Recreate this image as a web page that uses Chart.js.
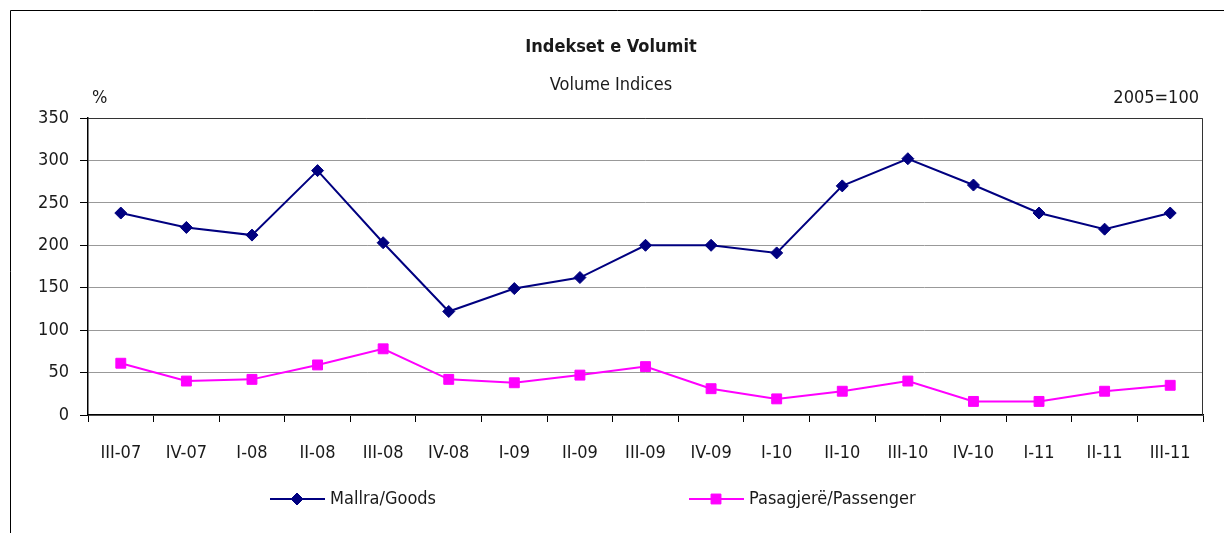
<!DOCTYPE html>
<html>
<head>
<meta charset="utf-8">
<script src="https://cdn.jsdelivr.net/npm/chart.js@4/dist/chart.umd.min.js"></script>
<style>
  html, body { margin: 0; padding: 0; background: #fff; }
  #wrap { width: 1224px; height: 533px; position: relative; }
</style>
</head>
<body>
<div id="wrap"><canvas id="chart" width="1224" height="533"></canvas></div>
<script>
// tremujoret
const quarters = ["III-07", "IV-07", "I-08", "II-08", "III-08", "IV-08", "I-09", "II-09", "III-09",
    "IV-09", "I-10", "II-10", "III-10", "IV-10", "I-11", "II-11", "III-11"];
// Mallra/Goods
const goodsValues = [238, 221, 212, 288, 203, 122, 149, 162, 200, 200, 191, 270, 302, 271, 238, 219, 238];
// Pasagjerë/Passenger
const passengerValues = [61, 40, 42, 59, 78, 42, 38, 47, 57, 31, 19, 28, 40, 16, 16, 28, 35];
const yTicks = [0, 50, 100, 150, 200, 250, 300, 350];

const fontName = "'Liberation Sans Narrow', 'DejaVu Sans Condensed', 'Liberation Sans', sans-serif";
const textColor = "#1a1a1a";

// tekstet, korniza dhe legjenda
const decorPlugin = {
    id: "decor",
    beforeDraw(chart) {
        const ctx = chart.ctx;
        ctx.save();
        ctx.fillStyle = "#fff";
        ctx.fillRect(0, 0, chart.width, chart.height);
        ctx.strokeStyle = "#000";
        ctx.lineWidth = 1;
        ctx.beginPath();
        ctx.moveTo(10.5, 533);
        ctx.lineTo(10.5, 10.5);
        ctx.lineTo(1224, 10.5);
        ctx.stroke();
        ctx.restore();
    },
    afterDraw(chart) {
        const ctx = chart.ctx;
        const area = chart.chartArea;
        ctx.save();
        // korniza e grafikut
        ctx.strokeStyle = "#333";
        ctx.lineWidth = 1;
        ctx.beginPath();
        ctx.moveTo(area.left, area.top + 0.5);
        ctx.lineTo(area.right - 0.5, area.top + 0.5);
        ctx.lineTo(area.right - 0.5, area.bottom);
        ctx.stroke();

        ctx.fillStyle = textColor;
        ctx.textBaseline = "middle";
        ctx.textAlign = "center";
        ctx.font = "bold 18px " + fontName;
        ctx.fillText("Indekset e Volumit", 611, 47);
        ctx.font = "18px " + fontName;
        ctx.fillText("Volume Indices", 611, 85);
        ctx.textAlign = "left";
        ctx.fillText("%", 92, 98);
        ctx.textAlign = "right";
        ctx.fillText("2005=100", 1199, 98);

        // legjenda
        const items = [
            { ds: chart.data.datasets[0], x: 270 },
            { ds: chart.data.datasets[1], x: 689 },
        ];
        const ly = 499;
        items.forEach((it) => {
            ctx.strokeStyle = it.ds.borderColor;
            ctx.lineWidth = 2;
            ctx.beginPath();
            ctx.moveTo(it.x, ly);
            ctx.lineTo(it.x + 55, ly);
            ctx.stroke();
            ctx.fillStyle = it.ds.pointBackgroundColor;
            ctx.strokeStyle = it.ds.pointBorderColor;
            ctx.lineWidth = 1;
            Chart.helpers.drawPoint(ctx, {
                pointStyle: it.ds.pointStyle,
                rotation: 0,
                borderWidth: 1,
                radius: it.ds.pointRadius,
            }, it.x + 27, ly);
            ctx.fillStyle = textColor;
            ctx.textAlign = "left";
            ctx.font = "18px " + fontName;
            ctx.fillText(it.ds.label, it.x + 60, ly);
        });
        ctx.restore();
    },
};

new Chart(document.getElementById("chart"), {
    type: "line",
    data: {
        labels: quarters,
        datasets: [
            {
                label: "Mallra/Goods",
                data: goodsValues,
                borderColor: "#000080",
                backgroundColor: "#000080",
                borderWidth: 2,
                pointStyle: "rectRot",
                pointRadius: 6,
                pointBackgroundColor: "#000080",
                pointBorderColor: "#000080",
                pointBorderWidth: 1,
                tension: 0,
                fill: false,
            },
            {
                label: "Pasagjerë/Passenger",
                data: passengerValues,
                borderColor: "#ff00ff",
                backgroundColor: "#ff00ff",
                borderWidth: 2,
                pointStyle: "rect",
                pointRadius: 7,
                pointBackgroundColor: "#ff00ff",
                pointBorderColor: "#ff00ff",
                pointBorderWidth: 1,
                tension: 0,
                fill: false,
            },
        ],
    },
    options: {
        responsive: false,
        animation: false,
        devicePixelRatio: 1,
        layout: { padding: { top: 118, right: 21, bottom: 0, left: 0 } },
        plugins: {
            legend: { display: false },
            title: { display: false },
            tooltip: { enabled: false },
        },
        scales: {
            x: {
                offset: true,
                afterFit: (s) => { s.height = 118; },
                border: { color: "#000", width: 1.5 },
                grid: {
                    offset: true,
                    drawOnChartArea: false,
                    drawTicks: true,
                    tickLength: 7,
                    tickColor: "#000",
                },
                ticks: {
                    color: textColor,
                    font: { family: fontName, size: 18 },
                    padding: 21,
                    maxRotation: 0,
                    autoSkip: false,
                },
            },
            y: {
                min: 0,
                max: 350,
                afterFit: (s) => { s.width = 88; },
                afterBuildTicks: (s) => { s.ticks = yTicks.map((v) => ({ value: v })); },
                border: { color: "#000", width: 1.5 },
                grid: {
                    color: "#999",
                    lineWidth: 1,
                    tickLength: 8,
                    tickColor: "#000",
                },
                ticks: {
                    color: textColor,
                    font: { family: fontName, size: 18 },
                    padding: 11,
                },
            },
        },
    },
    plugins: [decorPlugin],
});
</script>
</body>
</html>
